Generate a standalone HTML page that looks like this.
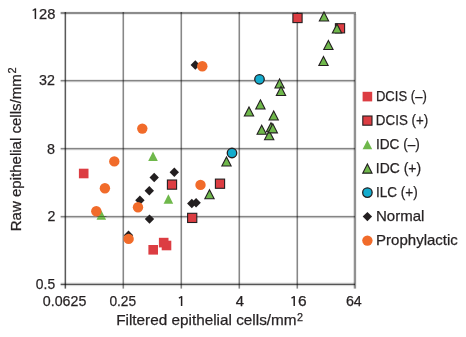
<!DOCTYPE html>
<html><head><meta charset="utf-8"><style>
html,body{margin:0;padding:0;background:#fff;width:466px;height:337px;overflow:hidden}
svg{display:block;font-family:"Liberation Sans",sans-serif}
</style></head><body>
<svg width="466" height="337" viewBox="0 0 466 337">
<rect width="466" height="337" fill="#fff"/>
<g id="grid"><rect x="64" y="12" width="1" height="276.6" fill="#000" fill-opacity="0.275"/><rect x="65" y="12" width="1" height="276.6" fill="#000" fill-opacity="0.647"/><rect x="66" y="12" width="1" height="276.6" fill="#000" fill-opacity="0.078"/><rect x="122" y="12" width="1" height="276.6" fill="#000" fill-opacity="0.235"/><rect x="123" y="12" width="1" height="276.6" fill="#000" fill-opacity="0.471"/><rect x="124" y="12" width="1" height="276.6" fill="#000" fill-opacity="0.039"/><rect x="180" y="12" width="1" height="276.6" fill="#000" fill-opacity="0.235"/><rect x="181" y="12" width="1" height="276.6" fill="#000" fill-opacity="0.471"/><rect x="182" y="12" width="1" height="276.6" fill="#000" fill-opacity="0.039"/><rect x="238" y="12" width="1" height="276.6" fill="#000" fill-opacity="0.235"/><rect x="239" y="12" width="1" height="276.6" fill="#000" fill-opacity="0.471"/><rect x="240" y="12" width="1" height="276.6" fill="#000" fill-opacity="0.039"/><rect x="296" y="12" width="1" height="276.6" fill="#000" fill-opacity="0.235"/><rect x="297" y="12" width="1" height="276.6" fill="#000" fill-opacity="0.471"/><rect x="298" y="12" width="1" height="276.6" fill="#000" fill-opacity="0.039"/><rect x="353" y="14" width="1" height="274.6" fill="#000" fill-opacity="0.118"/><rect x="354" y="14" width="1" height="274.6" fill="#000" fill-opacity="0.431"/><rect x="355" y="14" width="1" height="274.6" fill="#000" fill-opacity="0.431"/><rect x="356" y="14" width="1" height="274.6" fill="#000" fill-opacity="0.059"/><rect x="60.6" y="11" width="295.4" height="1" fill="#000" fill-opacity="0.039"/><rect x="60.6" y="12" width="295.4" height="1" fill="#000" fill-opacity="0.451"/><rect x="60.6" y="13" width="295.4" height="1" fill="#000" fill-opacity="0.451"/><rect x="60.6" y="14" width="295.4" height="1" fill="#000" fill-opacity="0.078"/><rect x="60.6" y="79" width="294.4" height="1" fill="#000" fill-opacity="0.067"/><rect x="60.6" y="80" width="294.4" height="1" fill="#000" fill-opacity="0.478"/><rect x="60.6" y="81" width="294.4" height="1" fill="#000" fill-opacity="0.247"/><rect x="60.6" y="82" width="294.4" height="1" fill="#000" fill-opacity="0.039"/><rect x="60.6" y="147" width="294.4" height="1" fill="#000" fill-opacity="0.067"/><rect x="60.6" y="148" width="294.4" height="1" fill="#000" fill-opacity="0.478"/><rect x="60.6" y="149" width="294.4" height="1" fill="#000" fill-opacity="0.247"/><rect x="60.6" y="150" width="294.4" height="1" fill="#000" fill-opacity="0.039"/><rect x="60.6" y="215" width="294.4" height="1" fill="#000" fill-opacity="0.067"/><rect x="60.6" y="216" width="294.4" height="1" fill="#000" fill-opacity="0.478"/><rect x="60.6" y="217" width="294.4" height="1" fill="#000" fill-opacity="0.247"/><rect x="60.6" y="218" width="294.4" height="1" fill="#000" fill-opacity="0.039"/><rect x="60.6" y="282" width="294.4" height="1" fill="#000" fill-opacity="0.059"/><rect x="60.6" y="283" width="294.4" height="1" fill="#000" fill-opacity="0.275"/><rect x="60.6" y="284" width="294.4" height="1" fill="#000" fill-opacity="0.667"/><rect x="60.6" y="285" width="294.4" height="1" fill="#000" fill-opacity="0.157"/><rect x="60.6" y="286" width="294.4" height="1" fill="#000" fill-opacity="0.020"/></g>
<g id="marks"><rect x="78.90" y="168.70" width="9.6" height="9.6" fill="#dc3d42"/><rect x="148.40" y="245.00" width="9.6" height="9.6" fill="#dc3d42"/><rect x="161.70" y="240.70" width="9.6" height="9.6" fill="#dc3d42"/><rect x="158.90" y="237.80" width="9.6" height="9.6" fill="#dc3d42"/><rect x="292.90" y="13.40" width="9.2" height="9.2" fill="#dc3d42" stroke="#231f20" stroke-width="1.1"/><rect x="335.40" y="23.70" width="9.2" height="9.2" fill="#dc3d42" stroke="#231f20" stroke-width="1.1"/><rect x="215.40" y="179.10" width="9.2" height="9.2" fill="#dc3d42" stroke="#231f20" stroke-width="1.1"/><rect x="187.60" y="213.30" width="9.2" height="9.2" fill="#dc3d42" stroke="#231f20" stroke-width="1.1"/><rect x="167.40" y="180.00" width="9.2" height="9.2" fill="#dc3d42" stroke="#231f20" stroke-width="1.1"/><path d="M153.00 151.60L157.80 161.00L148.20 161.00Z" fill="#6fb84b"/><path d="M168.40 194.30L173.20 203.70L163.60 203.70Z" fill="#6fb84b"/><path d="M101.30 210.30L106.10 219.70L96.50 219.70Z" fill="#6fb84b"/><path d="M324.00 11.95L328.65 21.05L319.35 21.05Z" fill="#6fb84b" stroke="#231f20" stroke-width="1.1"/><path d="M337.00 23.95L341.65 33.05L332.35 33.05Z" fill="#6fb84b" stroke="#231f20" stroke-width="1.1"/><path d="M328.40 40.45L333.05 49.55L323.75 49.55Z" fill="#6fb84b" stroke="#231f20" stroke-width="1.1"/><path d="M323.50 56.45L328.15 65.55L318.85 65.55Z" fill="#6fb84b" stroke="#231f20" stroke-width="1.1"/><path d="M279.60 78.95L284.25 88.05L274.95 88.05Z" fill="#6fb84b" stroke="#231f20" stroke-width="1.1"/><path d="M281.00 86.45L285.65 95.55L276.35 95.55Z" fill="#6fb84b" stroke="#231f20" stroke-width="1.1"/><path d="M260.40 99.85L265.05 108.95L255.75 108.95Z" fill="#6fb84b" stroke="#231f20" stroke-width="1.1"/><path d="M249.00 106.95L253.65 116.05L244.35 116.05Z" fill="#6fb84b" stroke="#231f20" stroke-width="1.1"/><path d="M273.70 110.95L278.35 120.05L269.05 120.05Z" fill="#6fb84b" stroke="#231f20" stroke-width="1.1"/><path d="M271.00 122.65L275.65 131.75L266.35 131.75Z" fill="#6fb84b" stroke="#231f20" stroke-width="1.1"/><path d="M269.20 130.65L273.85 139.75L264.55 139.75Z" fill="#6fb84b" stroke="#231f20" stroke-width="1.1"/><path d="M272.80 123.75L277.45 132.85L268.15 132.85Z" fill="#6fb84b" stroke="#231f20" stroke-width="1.1"/><path d="M261.70 125.15L266.35 134.25L257.05 134.25Z" fill="#6fb84b" stroke="#231f20" stroke-width="1.1"/><path d="M226.50 156.95L231.15 166.05L221.85 166.05Z" fill="#6fb84b" stroke="#231f20" stroke-width="1.1"/><path d="M209.50 189.65L214.15 198.75L204.85 198.75Z" fill="#6fb84b" stroke="#231f20" stroke-width="1.1"/><rect x="96.5" y="216" width="10" height="1" fill="#000" fill-opacity="0.35"/><circle cx="259.50" cy="79.30" r="4.75" fill="#13acce" stroke="#231f20" stroke-width="1.3"/><circle cx="232.00" cy="153.00" r="4.75" fill="#13acce" stroke="#231f20" stroke-width="1.3"/><path d="M195.30 60.30L200.00 65.00L195.30 69.70L190.60 65.00Z" fill="#231f20"/><path d="M174.30 167.50L179.00 172.20L174.30 176.90L169.60 172.20Z" fill="#231f20"/><path d="M154.20 172.80L158.90 177.50L154.20 182.20L149.50 177.50Z" fill="#231f20"/><path d="M149.30 186.10L154.00 190.80L149.30 195.50L144.60 190.80Z" fill="#231f20"/><path d="M139.90 195.50L144.60 200.20L139.90 204.90L135.20 200.20Z" fill="#231f20"/><path d="M149.50 214.40L154.20 219.10L149.50 223.80L144.80 219.10Z" fill="#231f20"/><path d="M191.80 198.80L196.50 203.50L191.80 208.20L187.10 203.50Z" fill="#231f20"/><path d="M196.10 198.00L200.80 202.70L196.10 207.40L191.40 202.70Z" fill="#231f20"/><path d="M128.50 230.50L133.20 235.20L128.50 239.90L123.80 235.20Z" fill="#231f20"/><circle cx="202.30" cy="66.20" r="5.2" fill="#f16b2a"/><circle cx="142.30" cy="128.60" r="5.2" fill="#f16b2a"/><circle cx="114.30" cy="161.40" r="5.2" fill="#f16b2a"/><circle cx="104.90" cy="188.30" r="5.2" fill="#f16b2a"/><circle cx="96.30" cy="211.30" r="5.2" fill="#f16b2a"/><circle cx="200.50" cy="184.90" r="5.2" fill="#f16b2a"/><circle cx="138.00" cy="207.30" r="5.2" fill="#f16b2a"/><circle cx="128.60" cy="238.90" r="5.2" fill="#f16b2a"/></g>
<g id="legm"><rect x="362.60" y="91.80" width="9.6" height="9.6" fill="#dc3d42"/><rect x="362.80" y="116.00" width="9.2" height="9.2" fill="#dc3d42" stroke="#231f20" stroke-width="1.1"/><path d="M367.40 139.90L372.20 149.30L362.60 149.30Z" fill="#6fb84b"/><path d="M367.40 164.05L372.05 173.15L362.75 173.15Z" fill="#6fb84b" stroke="#231f20" stroke-width="1.1"/><circle cx="367.40" cy="192.60" r="4.75" fill="#13acce" stroke="#231f20" stroke-width="1.3"/><path d="M367.40 211.90L372.10 216.60L367.40 221.30L362.70 216.60Z" fill="#231f20"/><circle cx="367.40" cy="240.60" r="5.2" fill="#f16b2a"/></g>
<g id="ones"><path d="M35.40 8.60V19.00" stroke="#231f20" stroke-width="1.5" fill="none"/><path d="M35.60 8.90L32.70 10.50" stroke="#231f20" stroke-width="1.25" fill="none"/><path d="M181.60 296.20V306.00" stroke="#231f20" stroke-width="1.5" fill="none"/><path d="M181.80 296.50L178.90 298.10" stroke="#231f20" stroke-width="1.25" fill="none"/><path d="M294.20 296.20V306.00" stroke="#231f20" stroke-width="1.5" fill="none"/><path d="M294.40 296.50L291.50 298.10" stroke="#231f20" stroke-width="1.25" fill="none"/></g>
<g id="texts" font-family="Liberation Sans, sans-serif" fill="#231f20" stroke="#231f20" stroke-width="0.25" opacity="0.99"><text id="y128" x="39.08" y="19.00" font-size="14.6"><tspan textLength="16.33" lengthAdjust="spacingAndGlyphs">28</tspan></text><text id="y32" x="39.10" y="85.00" font-size="14.6"><tspan textLength="15.85" lengthAdjust="spacingAndGlyphs">32</tspan></text><text id="y8" x="47.09" y="154.00" font-size="14.6"><tspan textLength="8.00" lengthAdjust="spacingAndGlyphs">8</tspan></text><text id="y2" x="47.39" y="221.00" font-size="14.6"><tspan textLength="7.93" lengthAdjust="spacingAndGlyphs">2</tspan></text><text id="y05" x="35.84" y="289.00" font-size="14.6"><tspan textLength="19.26" lengthAdjust="spacingAndGlyphs">0.5</tspan></text><text id="x0625" x="42.80" y="306.00" font-size="14.6"><tspan textLength="43.56" lengthAdjust="spacingAndGlyphs">0.0625</tspan></text><text id="x025" x="109.38" y="306.00" font-size="14.6"><tspan textLength="26.75" lengthAdjust="spacingAndGlyphs">0.25</tspan></text><text id="x4" x="235.88" y="306.00" font-size="14.6"><tspan textLength="8.24" lengthAdjust="spacingAndGlyphs">4</tspan></text><text id="x16" x="298.07" y="306.00" font-size="14.6"><tspan textLength="8.65" lengthAdjust="spacingAndGlyphs">6</tspan></text><text id="x64" x="345.93" y="306.00" font-size="14.6"><tspan textLength="15.87" lengthAdjust="spacingAndGlyphs">64</tspan></text><text id="xt" x="116.21" y="325.30" font-size="14.6"><tspan textLength="180.36" lengthAdjust="spacingAndGlyphs">Filtered epithelial cells/mm</tspan><tspan font-size="10.8" x="297.00" y="320.50">2</tspan></text><text id="yt" transform="translate(20.90,231.30) rotate(-90)" x="0" y="0" font-size="14.6"><tspan textLength="157.10" lengthAdjust="spacingAndGlyphs">Raw epithelial cells/mm</tspan><tspan font-size="11" x="157.75" y="-4.90">2</tspan></text><text id="dm" x="375.91" y="101.00" font-size="14.6"><tspan textLength="50.86" lengthAdjust="spacingAndGlyphs">DCIS (–)</tspan></text><text id="dp" x="375.85" y="125.00" font-size="14.6"><tspan textLength="52.39" lengthAdjust="spacingAndGlyphs">DCIS (+)</tspan></text><text id="im" x="375.90" y="149.00" font-size="14.6"><tspan textLength="43.93" lengthAdjust="spacingAndGlyphs">IDC (–)</tspan></text><text id="ip" x="375.84" y="173.00" font-size="14.6"><tspan textLength="45.25" lengthAdjust="spacingAndGlyphs">IDC (+)</tspan></text><text id="ilc" x="375.90" y="197.00" font-size="14.6"><tspan textLength="41.77" lengthAdjust="spacingAndGlyphs">ILC (+)</tspan></text><text id="n" x="376.01" y="221.00" font-size="14.6"><tspan textLength="48.46" lengthAdjust="spacingAndGlyphs">Normal</tspan></text><text id="pr" x="376.12" y="245.00" font-size="14.6"><tspan textLength="81.74" lengthAdjust="spacingAndGlyphs">Prophylactic</tspan></text></g>
</svg>
</body></html>
